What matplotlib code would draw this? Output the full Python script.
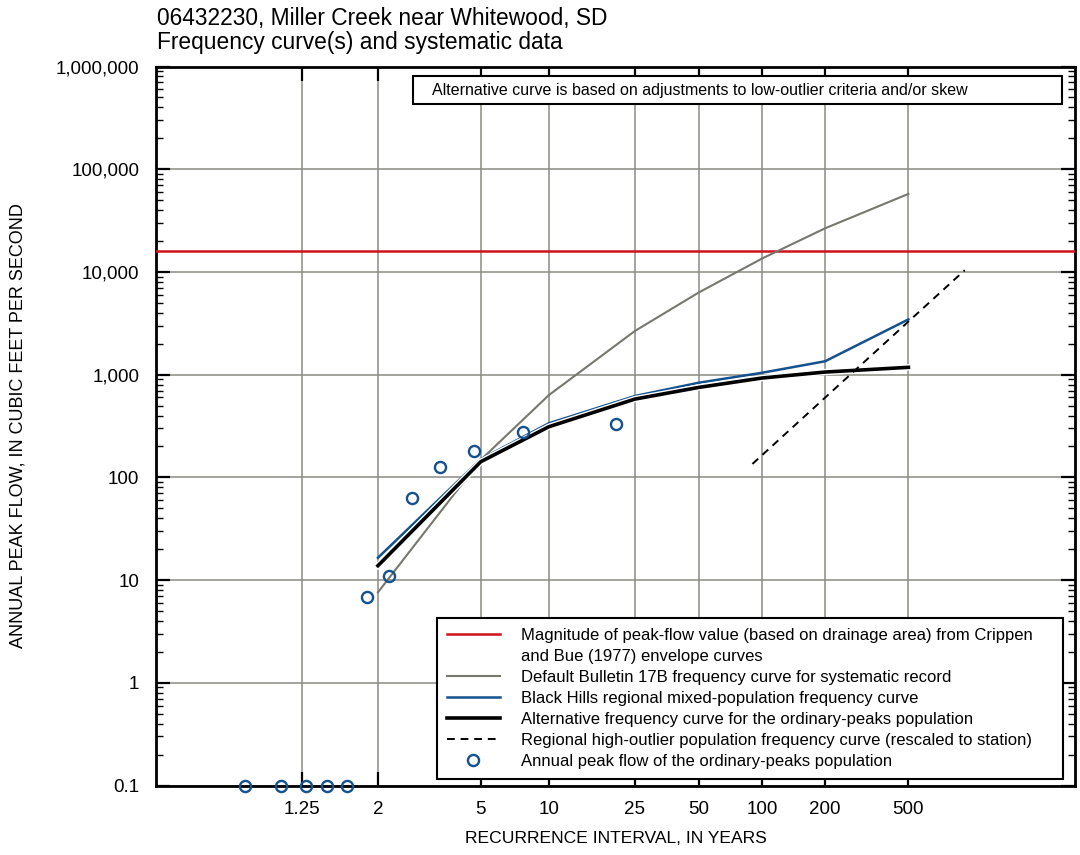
import numpy as np
import matplotlib
matplotlib.use("Agg")
import matplotlib.pyplot as plt
import matplotlib.patheffects as pe
from matplotlib.lines import Line2D
from matplotlib.patches import Rectangle
from matplotlib.ticker import FixedLocator, LogLocator, NullFormatter, NullLocator

plt.rcParams['font.family'] = ['Liberation Sans', 'DejaVu Sans']

# --- data (recurrence interval in years, flow in ft3/s) ---
ri_curve = [2, 5, 10, 25, 50, 100, 200, 500]
bulletin17b = [7.6, 148, 632, 2660, 6300, 13500, 26600, 57500]
regional_mixed = [16.5, 150, 336, 619, 834, 1043, 1350, 3450]
alternative = [13.8, 142, 311, 578, 751, 927, 1060, 1178]

ri_high = [90, 930]
high_outlier = [135, 10400]

envelope_flow = 16000

ri_peaks = [1.052, 1.152, 1.274, 1.424, 1.609, 1.846, 2.179, 2.645, 3.385, 4.688, 7.64, 20.3]
peaks = [0.1, 0.1, 0.1, 0.1, 0.1, 6.9, 10.9, 63, 126, 179, 274, 328]

tick_ri = [1.25, 2, 5, 10, 25, 50, 100, 200, 500]
tick_ri_labels = ['1.25', '2', '5', '10', '25', '50', '100', '200', '500']
tick_flow = [0.1, 1, 10, 100, 1000, 10000, 100000, 1000000]
tick_flow_labels = ['0.1', '1', '10', '100', '1,000', '10,000', '100,000', '1,000,000']


# Gumbel (extreme value) probability scale for recurrence interval
def gumbel(t):
    t = np.asarray(t, dtype=float)
    with np.errstate(all='ignore'):
        return -np.log(-np.log(1.0 - 1.0 / t))


def gumbel_inv(g):
    g = np.asarray(g, dtype=float)
    with np.errstate(all='ignore'):
        return 1.0 / (1.0 - np.exp(-np.exp(-g)))


BLUE = '#13518f'
RED = '#d0121b'
GRAY = '#77776f'
GRID = '#8c8c84'

fig = plt.figure(figsize=(10.8, 8.55), dpi=100)
ax = fig.add_axes([156 / 1080, 1 - 785.5 / 855, (1075 - 156) / 1080, (785.5 - 66.5) / 855])

ax.set_xlim(1.5, 100)
ax.set_xscale('function', functions=(gumbel, gumbel_inv))
ax.set_yscale('log')
ax.set_xlim(gumbel_inv(-2.08), gumbel_inv(8.05))
ax.set_ylim(0.1, 1e6)

h_red = ax.axhline(envelope_flow, color=RED, lw=1.8, zorder=3,
                   label='Magnitude of peak-flow value (based on drainage area) from Crippen')
h_red2 = Line2D([], [], color='none', label='and Bue (1977) envelope curves')
h_gray, = ax.plot(ri_curve, bulletin17b, color=GRAY, lw=1.5, zorder=3,
                  label='Default Bulletin 17B frequency curve for systematic record')
h_blue, = ax.plot(ri_curve, regional_mixed, color=BLUE, lw=1.8, zorder=4,
                  label='Black Hills regional mixed-population frequency curve')
h_black, = ax.plot(ri_curve, alternative, color='black', lw=2.6, zorder=5,
                   path_effects=[pe.Stroke(linewidth=4.6, foreground='white'), pe.Normal()],
                   label='Alternative frequency curve for the ordinary-peaks population')
h_dash, = ax.plot(ri_high, high_outlier, color='black', lw=1.4, ls=(0, (4, 3)), zorder=5,
                  label='Regional high-outlier population frequency curve (rescaled to station)')
h_pts, = ax.plot(ri_peaks, peaks, ls='none', marker='o', ms=8, mfc='none', mec=BLUE, mew=1.7,
                 zorder=7, clip_on=False,
                 label='Annual peak flow of the ordinary-peaks population')

# axes, ticks, grid
ax.xaxis.set_major_locator(FixedLocator(tick_ri))
ax.xaxis.set_minor_locator(NullLocator())
ax.set_xticklabels(tick_ri_labels)
ax.yaxis.set_major_locator(FixedLocator(tick_flow))
ax.yaxis.set_minor_locator(LogLocator(base=10, subs=np.arange(2, 10)))
ax.yaxis.set_minor_formatter(NullFormatter())
ax.set_yticklabels(tick_flow_labels)

ax.tick_params(which='major', direction='in', length=10, width=1.6, top=True, right=True,
               labelsize=13.5, color='black')
ax.tick_params(axis='x', which='major', pad=11)
ax.tick_params(axis='y', which='major', pad=12)
ax.tick_params(which='minor', direction='in', length=5, width=1.0, left=True, right=True)

ax.grid(True, which='major', color=GRID, lw=1.1)
ax.set_axisbelow(True)
for s in ax.spines.values():
    s.set_linewidth(2.0)

ax.set_xlabel('RECURRENCE INTERVAL, IN YEARS', fontsize=12.6)
ax.set_ylabel('ANNUAL PEAK FLOW, IN CUBIC FEET PER SECOND', fontsize=13)
ax.yaxis.set_label_coords((27 - 156) / 919, 0.5)
ax.xaxis.set_label_coords(0.5, -(831 - 785.5) / 719)

# note box at top
ax.add_patch(Rectangle((0.2797, 0.948), 0.7063, 0.0389, transform=ax.transAxes,
                       fc='white', ec='black', lw=1.5, zorder=8))
ax.text(0.3003, 0.967, 'Alternative curve is based on adjustments to low-outlier criteria and/or skew',
        transform=ax.transAxes, fontsize=11.5, va='center', ha='left', zorder=9)

# legend
leg = ax.legend(handles=[h_red, h_red2, h_gray, h_blue, h_black, h_dash, h_pts],
                loc='lower left', mode='expand',
                bbox_to_anchor=((436.8 - 156) / 919, (785.5 - 779) / 719, (1063 - 436.8) / 919, 0.2),
                borderaxespad=0, fontsize=12, handlelength=3.2, handletextpad=1.25,
                borderpad=0.6, labelspacing=0.36, fancybox=False, framealpha=1,
                edgecolor='black')
leg.get_frame().set_linewidth(1.5)
leg.set_zorder(10)

# title
fig.text(157 / 1080, 1 - 18 / 855, '06432230, Miller Creek near Whitewood, SD', fontsize=16.4, va='center')
fig.text(157 / 1080, 1 - 43 / 855, 'Frequency curve(s) and systematic data', fontsize=16.4, va='center')

fig.savefig('out.png', dpi=100)
